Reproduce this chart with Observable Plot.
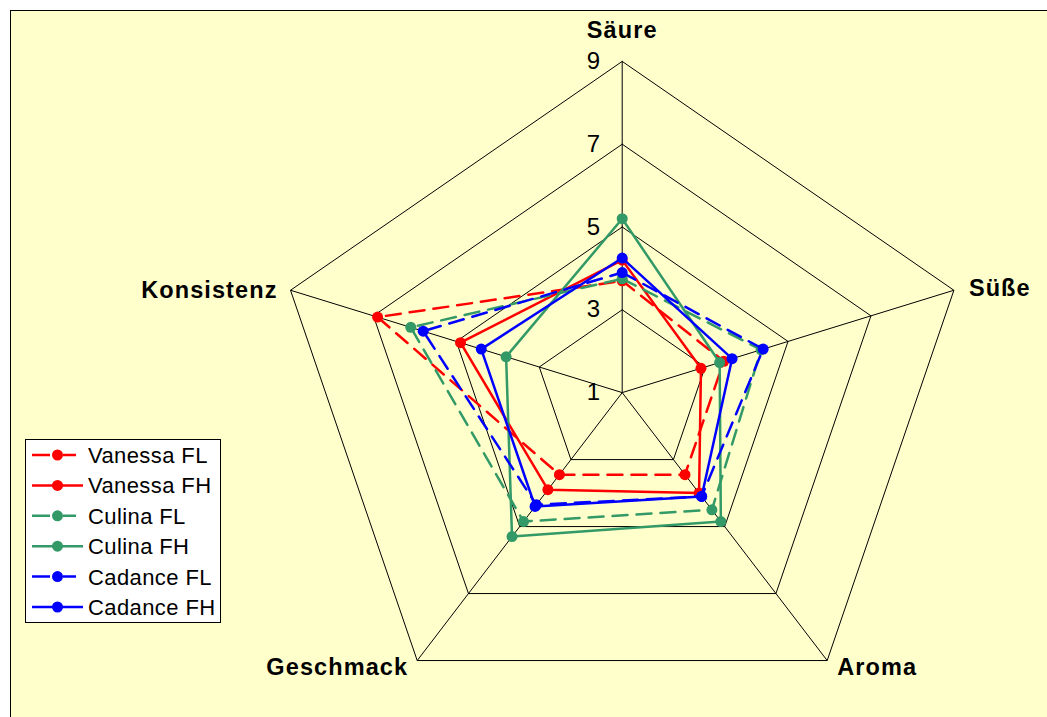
<!DOCTYPE html>
<html>
<head>
<meta charset="utf-8">
<script src="https://cdn.jsdelivr.net/npm/d3@7"></script>
<script src="https://cdn.jsdelivr.net/npm/@observablehq/plot@0.6"></script>
<style>
  html, body { margin: 0; padding: 0; background: #ffffff; overflow: hidden; width: 1047px; height: 717px; }
  #frame { position: absolute; left: 10px; top: 10px; width: 1100px; height: 800px; background: #FFFFCC; border: 1px solid #000; }
  #chart { position: absolute; left: 0; top: 0; }
  #legend { position: absolute; left: 25px; top: 439px; width: 196px; height: 184px; background: #ffffff; border: 1px solid #000; box-sizing: border-box; }
  #legend svg { display: block; }
</style>
</head>
<body>
<div id="frame"></div>
<div id="chart"></div>
<div id="legend"></div>
<script>
// ---- data ----
const axes = ["Säure", "Süße", "Aroma", "Geschmack", "Konsistenz"];
const tickValues = [1, 3, 5, 7, 9];
const gridValues = [3, 5, 7, 9];
const seriesNames = ["Vanessa FL", "Vanessa FH", "Culina FL", "Culina FH", "Cadance FL", "Cadance FH"];
const vanessaFL = [3.7, 3.45, 3.45, 3.45, 6.9];
const vanessaFH = [4.2, 2.9, 4.0, 3.9, 4.9];
const culinaFL  = [3.75, 4.35, 4.5, 4.85, 6.1];
const culinaFH  = [5.2, 3.35, 4.85, 5.3, 3.8];
const cadanceFL = [3.9, 4.4, 4.1, 4.35, 5.8];
const cadanceFH = [4.25, 3.65, 4.1, 4.4, 4.4];
const seriesValues = [vanessaFL, vanessaFH, culinaFL, culinaFH, cadanceFL, cadanceFH];
const seriesColors = ["#FF0000", "#FF0000", "#339966", "#339966", "#0000FF", "#0000FF"];
const seriesDashed = [true, false, true, false, true, false];

// ---- geometry helpers ----
const rMin = 1, rMax = 9;
const span = rMax - rMin;
function pt(i, v) {
  const a = Math.PI / 2 - i * 2 * Math.PI / axes.length;
  return {x: (v - rMin) * Math.cos(a), y: (v - rMin) * Math.sin(a)};
}
const ring = d3.range(axes.length + 1).map(i => i % axes.length);

// layout (pixels)
const cx = 621.7, cy = 392.1, R = 331.2, stretchX = 1.053;

const gridData = gridValues.flatMap(g => ring.map(i => ({g, ...pt(i, g)})));
const spokeData = axes.map((a, i) => ({x1: 0, y1: 0, ...(p => ({x2: p.x, y2: p.y}))(pt(i, rMax))}));
const tickData = tickValues.map(v => ({label: String(v), x: 0, y: v - rMin}));
const labelData = axes.map((a, i) => ({label: a, ...pt(i, rMax)}));
const labelStyle = [
  {textAnchor: "middle", dx: 0, dy: -31},
  {textAnchor: "start", dx: 15, dy: -2},
  {textAnchor: "start", dx: 10, dy: 7},
  {textAnchor: "end", dx: -9, dy: 7},
  {textAnchor: "end", dx: -13, dy: 0}
];

const marks = [
  Plot.line(gridData, {x: "x", y: "y", z: "g", stroke: "#000", strokeWidth: 1}),
  Plot.link(spokeData, {x1: "x1", y1: "y1", x2: "x2", y2: "y2", stroke: "#000", strokeWidth: 1}),
  Plot.text(tickData, {x: "x", y: "y", text: "label", textAnchor: "end", dx: -22, fontSize: 24, fill: "#000"})
];
labelData.forEach((d, i) => {
  marks.push(Plot.text([d], {x: "x", y: "y", text: "label", fontSize: 23.5, fontWeight: "bold", fill: "#000", ...labelStyle[i]}));
});
seriesValues.forEach((vals, s) => {
  const pts = vals.map((v, i) => ({series: seriesNames[s], ...pt(i, v)}));
  const closed = ring.map(i => pts[i]);
  marks.push(Plot.line(closed, {x: "x", y: "y", stroke: seriesColors[s], strokeWidth: 2.5,
    strokeDasharray: seriesDashed[s] ? "15,9" : null, strokeLinejoin: "round"}));
  marks.push(Plot.dot(pts, {x: "x", y: "y", r: 5.5, fill: seriesColors[s], stroke: "none"}));
});

const chart = Plot.plot({
  width: 1047,
  height: 717,
  style: {background: "transparent", fontFamily: "Arial, 'Liberation Sans', sans-serif", overflow: "visible"},
  x: {type: "linear", domain: [-span, span], range: [cx - R * stretchX, cx + R * stretchX], axis: null},
  y: {type: "linear", domain: [-span, span], range: [cy + R, cy - R], axis: null},
  marks
});
d3.select(chart).selectAll("g[font-weight='bold'] text").attr("letter-spacing", "1.1px");
document.getElementById("chart").appendChild(chart);

// ---- legend ----
const lg = d3.select("#legend").append("svg").attr("width", 194).attr("height", 182)
  .style("font-family", "Arial, 'Liberation Sans', sans-serif");
seriesNames.forEach((name, s) => {
  const y = 15 + s * 30.4;
  const g = lg.append("g");
  g.append("line").attr("x1", 6).attr("x2", seriesDashed[s] ? 50 : 57).attr("y1", y).attr("y2", y)
    .attr("stroke", seriesColors[s]).attr("stroke-width", 2.5)
    .attr("stroke-dasharray", seriesDashed[s] ? "18,13" : null);
  g.append("circle").attr("cx", 31.5).attr("cy", y).attr("r", 5.5).attr("fill", seriesColors[s]);
  g.append("text").attr("x", 62).attr("y", y).attr("dy", "0.36em").attr("font-size", 22)
    .attr("letter-spacing", "0.4px").attr("fill", "#000").text(name);
});
</script>
</body>
</html>
